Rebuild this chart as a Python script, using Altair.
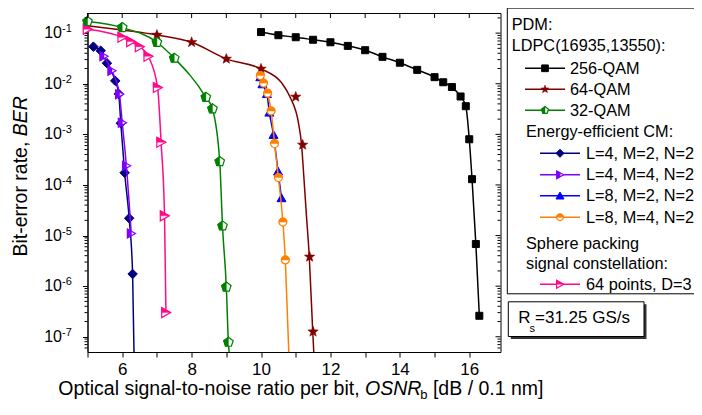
import math
import altair as alt
import pandas as pd

# ---------------- data ----------------
qam256_x = [10.0, 10.5, 11.0, 11.5, 12.0, 12.5, 13.0, 13.5, 14.0, 14.5, 15.0, 15.25, 15.5, 15.75, 15.9, 16.0, 16.08, 16.19, 16.29]
qam256_ber = [0.105, 0.091, 0.083, 0.074, 0.066, 0.056, 0.046, 0.034, 0.026, 0.0188, 0.0135, 0.0107, 0.0086, 0.0056, 0.0036, 8.0e-4, 1.3e-4, 6.8e-6, 2.6e-7]

qam64_x = [7.0, 8.0, 9.0, 10.0, 11.0, 11.2, 11.4, 11.5]
qam64_ber = [0.092, 0.066, 0.031, 0.0197, 0.0055, 6.2e-4, 3.8e-6, 1.26e-7]
qam64_fit_x = [5.0, 6.0, 7.0, 8.0, 9.0, 10.0, 10.6, 10.84, 11.08, 11.17, 11.22, 11.3, 11.39, 11.49, 11.52]
qam64_fit_ber = [0.14, 0.115, 0.092, 0.066, 0.031, 0.0197, 0.0103, 0.0054, 0.00166, 6.0e-4, 2.0e-4, 3.0e-5, 3.8e-6, 1.26e-7, 5.0e-8]

qam32_x = [5.0, 6.0, 7.0, 7.5, 8.41, 8.6, 8.81, 8.89, 9.0, 9.06]
qam32_ber = [0.17, 0.129, 0.066, 0.032, 0.0054, 0.0032, 2.9e-4, 1.55e-5, 9.6e-7, 7.8e-8]
qam32_tail_x = [9.08]
qam32_tail_ber = [5.0e-8]

l4m2_x = [5.17, 5.38, 5.56, 5.8, 5.9, 5.96, 6.07, 6.2, 6.3]
l4m2_ber = [0.054, 0.045, 0.0255, 0.0114, 0.0063, 0.00166, 1.74e-4, 2.2e-5, 1.74e-6]
l4m2_tail_x = [6.34]
l4m2_tail_ber = [5.0e-8]

l4m4_x = [5.47, 5.7, 5.92, 6.0, 6.12, 6.26]
l4m4_ber = [0.035, 0.018, 0.0062, 0.0017, 2.4e-4, 1.1e-5]

l8m2_x = [9.98, 10.04, 10.17, 10.24, 10.36, 10.49, 10.59]
l8m2_ber = [0.0135, 0.0098, 0.0063, 0.0027, 9.8e-4, 1.85e-4, 5.5e-5]

l8m4_x = [9.98, 10.07, 10.19, 10.29, 10.39, 10.5, 10.63, 10.7]
l8m4_ber = [0.0145, 0.0103, 0.0065, 0.0029, 6.6e-4, 1.4e-4, 1.85e-5, 3.3e-6]
l8m4_tail_x = [10.8]
l8m4_tail_ber = [5.0e-8]

sp64_x = [5.0, 6.0, 6.25, 6.5, 6.75, 7.02, 7.12, 7.22, 7.26]
sp64_ber = [0.12, 0.083, 0.068, 0.054, 0.035, 0.0084, 7.0e-4, 2.45e-5, 3.0e-7]

x_ticks = [5, 6, 7, 8, 9, 10, 11, 12, 13, 14, 15, 16]
y_major = [1e-1, 1e-2, 1e-3, 1e-4, 1e-5, 1e-6, 1e-7]
y_exp = ["-1", "-2", "-3", "-4", "-5", "-6", "-7"]

x_title_parts = ["Optical signal-to-noise ratio per bit,", "OSNR", "b", "[dB / 0.1 nm]"]
y_title_parts = ["Bit-error rate,", "BER"]

legend_head1 = "PDM:"
legend_head2 = "LDPC(16935,13550):"
legend_head3 = "Energy-efficient CM:"
legend_head4a = "Sphere packing"
legend_head4b = "signal constellation:"
rs_parts = ["R", "s", "=31.25 GS/s"]

# ---------------- layout / style ----------------
W, H = 413, 339
TOTAL_W, TOTAL_H = 686, 394
PAD_L, PAD_T = 79.5, 5
FONT = "Liberation Sans"
XMIN, XMAX = 5, 16.9
YMIN, YMAX = 5e-8, 0.25

C_256 = "#000000"
C_64 = "#800000"
C_32 = "#008000"
C_L4M2 = "#000080"
C_L4M4 = "#8000FF"
C_L8M2 = "#0000FF"
C_L8M4 = "#FF8000"
C_SP = "#FF0A8C"


def poly(pts):
    return "M" + "L".join(f"{a:.3f},{b:.3f}" for a, b in pts) + "Z"


STAR = poly([((1.0 if k % 2 == 0 else 0.42) * math.cos(math.radians(-90 + 36 * k)),
              (1.0 if k % 2 == 0 else 0.42) * math.sin(math.radians(-90 + 36 * k))) for k in range(10)])
PENT = poly([(math.cos(math.radians(-90 + 72 * k)), math.sin(math.radians(-90 + 72 * k))) for k in range(5)])
PENT_HALF = "M0,-1L-0.951,-0.309L-0.588,0.809L0,0.809Z"
SQUARE = "M-1,-1L1,-1L1,1L-1,1Z"
DIAMOND = "M0,-1L1,0L0,1L-1,0Z"
TRI_UP = "M0,-0.95L1,0.8L-1,0.8Z"
TRI_R = "M-0.85,-1L0.95,0L-0.85,1Z"
TRI_R_LEFT = "M-0.85,-1L0.05,-0.5L0.05,0.5L-0.85,1Z"
TRI_R_TOP = "M-0.85,-1L0.95,0L-0.85,0Z"
CIRCLE = "M-1,0A1,1,0,1,1,1,0A1,1,0,1,1,-1,0Z"
CIRCLE_TOP = "M-1,0A1,1,0,0,1,1,0Z"

xscale = alt.Scale(domain=[XMIN, XMAX], nice=False, zero=False)
yscale = alt.Scale(type="log", domain=[YMIN, YMAX], nice=False)
x_axis = alt.Axis(values=x_ticks, labelExpr="datum.value % 2 == 0 ? datum.label : ''",
                  tickSize=5, labelFontSize=17, labelPadding=4, title=None, grid=False,
                  labelFont=FONT, labelColor="black", tickColor="black", domainColor="black")
y_axis = alt.Axis(values=y_major, labels=False, tickSize=5, title=None, grid=False,
                  tickColor="black", domainColor="black")


def X(f):
    return alt.X(f"{f}:Q", scale=xscale, axis=x_axis)


def Y(f):
    return alt.Y(f"{f}:Q", scale=yscale, axis=y_axis)


layers = []


def line(xs, ys, color):
    df = pd.DataFrame({"x": xs, "ber": ys})
    layers.append(alt.Chart(df).mark_line(color=color, strokeWidth=1.5, interpolate="monotone", clip=True)
                  .encode(x=X("x"), y=Y("ber")))


def pts(xs, ys, shape, size, fill, stroke, sw=1.0):
    df = pd.DataFrame({"x": xs, "ber": ys})
    layers.append(alt.Chart(df).mark_point(shape=shape, size=size, filled=True, fill=fill, stroke=stroke,
                                           strokeWidth=sw, opacity=1)
                  .encode(x=X("x"), y=Y("ber")))


# curves
line(qam256_x, qam256_ber, C_256)
pts(qam256_x, qam256_ber, SQUARE, 49, C_256, C_256)
line(qam64_fit_x, qam64_fit_ber, C_64)
pts(qam64_x, qam64_ber, STAR, 121, C_64, C_64, 0.5)
line(sp64_x, sp64_ber, C_SP)
pts(sp64_x, sp64_ber, TRI_R, 100, "white", C_SP, 1.2)
pts(sp64_x, sp64_ber, TRI_R_TOP, 100, C_SP, C_SP, 0.5)
line(l4m2_x + l4m2_tail_x, l4m2_ber + l4m2_tail_ber, C_L4M2)
pts(l4m2_x, l4m2_ber, DIAMOND, 90, C_L4M2, C_L4M2)
line(l4m4_x, l4m4_ber, C_L4M4)
pts(l4m4_x, l4m4_ber, TRI_R, 81, "white", C_L4M4, 1.2)
pts(l4m4_x, l4m4_ber, TRI_R_LEFT, 81, C_L4M4, C_L4M4, 0.5)
line(l8m2_x, l8m2_ber, C_L8M2)
pts(l8m2_x, l8m2_ber, TRI_UP, 81, C_L8M2, C_L8M2)
line(l8m4_x + l8m4_tail_x, l8m4_ber + l8m4_tail_ber, C_L8M4)
pts(l8m4_x, l8m4_ber, CIRCLE, 64, "white", C_L8M4, 1.2)
pts(l8m4_x, l8m4_ber, CIRCLE_TOP, 64, C_L8M4, C_L8M4, 0.5)
line(qam32_x + qam32_tail_x, qam32_ber + qam32_tail_ber, C_32)
pts(qam32_x, qam32_ber, PENT, 100, "white", C_32, 1.2)
pts(qam32_x, qam32_ber, PENT_HALF, 100, C_32, C_32, 0.5)

# minor / mirrored ticks
y_minor = [m * 10.0 ** k for k in range(-8, 0) for m in range(2, 10) if YMIN < m * 10.0 ** k < YMAX]
dminor = pd.DataFrame({"v": y_minor})
dmajor = pd.DataFrame({"v": y_major})
dxt = pd.DataFrame({"t": x_ticks})
layers.append(alt.Chart(dminor).mark_rule(color="black", strokeWidth=1)
              .encode(y=Y("v"), x=alt.value(-3), x2=alt.value(0)))
layers.append(alt.Chart(dminor).mark_rule(color="black", strokeWidth=1)
              .encode(y=Y("v"), x=alt.value(W - 3), x2=alt.value(W)))
layers.append(alt.Chart(dmajor).mark_rule(color="black", strokeWidth=1)
              .encode(y=Y("v"), x=alt.value(W - 5), x2=alt.value(W)))
layers.append(alt.Chart(dxt).mark_rule(color="black", strokeWidth=1)
              .encode(x=X("t"), y=alt.value(0), y2=alt.value(5)))

# y tick labels 10^k
dlab = pd.DataFrame({"v": y_major, "b": ["10"] * len(y_major), "e": y_exp})
layers.append(alt.Chart(dlab).mark_text(align="right", baseline="middle", fontSize=16, font=FONT, color="black")
              .encode(y=Y("v"), x=alt.value(-25.5), text="b:N"))
layers.append(alt.Chart(dlab).mark_text(align="left", baseline="middle", fontSize=11, font=FONT, color="black", dy=-4)
              .encode(y=Y("v"), x=alt.value(-25.5), text="e:N"))


def text(s, x, y, size=17, style="normal", angle=0, align="left"):
    df = pd.DataFrame({"t": [s]})
    kw = dict(align=align, baseline="alphabetic", fontSize=size, font=FONT, color="black", fontStyle=style)
    if angle:
        kw["angle"] = angle
    layers.append(alt.Chart(df).mark_text(**kw).encode(x=alt.value(x), y=alt.value(y), text="t:N"))


def rect(x1, y1, x2, y2, fill, stroke=None, sw=1):
    df = pd.DataFrame({"a": [0]})
    kw = dict(fill=fill)
    if stroke:
        kw.update(stroke=stroke, strokeWidth=sw)
    else:
        kw.update(strokeWidth=0)
    layers.append(alt.Chart(df).mark_rect(**kw).encode(x=alt.value(x1), x2=alt.value(x2),
                                                        y=alt.value(y1), y2=alt.value(y2)))


def hline(x1, x2, y, color="black", sw=1):
    layers.append(alt.Chart(pd.DataFrame({"a": [0]})).mark_rule(color=color, strokeWidth=sw)
                  .encode(x=alt.value(x1), x2=alt.value(x2), y=alt.value(y)))


def vline(x, y1, y2, color="black", sw=1):
    layers.append(alt.Chart(pd.DataFrame({"a": [0]})).mark_rule(color=color, strokeWidth=sw)
                  .encode(x=alt.value(x), y=alt.value(y1), y2=alt.value(y2)))


# axis titles (pieces for italic / subscript)
TF = 19.5
xb = 382
x0 = -29.2
text(x_title_parts[0], x0, xb, TF)
text(x_title_parts[1], x0 + 15.728 * TF, xb, TF, "italic")
sx = x0 + (15.728 + 2.889) * TF - 1
text(x_title_parts[2], sx, xb + 4, 13)
text(x_title_parts[3], sx + 7.2 + 0.278 * TF, xb, TF)

yb = -60.5
text(y_title_parts[0], yb, 243.5, TF, angle=270)
text(y_title_parts[1], yb, 243.5 - 6.168 * TF, TF, "italic", angle=270)

# legend box (its right side runs off the picture, as in the reference)
LX0 = 419.8
LX1 = TOTAL_W - PAD_L + 5
rect(LX0, -4.9, LX1, 280.8, "white")
hline(LX0, LX1, -4.9)
hline(LX0, LX1, 280.8)
vline(LX0, -4.9, 280.8)
baselines = [16.8, 38.3, 60.8, 81.8, 102.8, 124.3, 145.8, 167.3, 188.3, 209.8, 236.3, 256.3, 276.8]
LF = 16.3
text(legend_head1, 424.2, baselines[0], LF)
text(legend_head2, 424.2, baselines[1], LF)
text(legend_head3, 438.5, baselines[5], LF)
text(legend_head4a, 438.5, baselines[10], LF)
text(legend_head4b, 438.5, baselines[11], LF)


def legend_entry(row, label, color, shapes, indent):
    yb_ = baselines[row]
    cy = yb_ - 5.5
    if indent == 0:
        x1, x2, tx = 437.5, 477.5, 482.5
    else:
        x1, x2, tx = 452.5, 492.5, 498.5
    hline(x1, x2, cy, color, 1.5)
    for shape, size, fill, stroke, sw in shapes:
        layers.append(alt.Chart(pd.DataFrame({"a": [0]})).mark_point(shape=shape, size=size, filled=True,
                                                                      fill=fill, stroke=stroke, strokeWidth=sw,
                                                                      opacity=1)
                      .encode(x=alt.value((x1 + x2) / 2), y=alt.value(cy)))
    text(label, tx, yb_, LF)


legend_entry(2, "256-QAM", C_256, [(SQUARE, 45, C_256, C_256, 1)], 0)
legend_entry(3, "64-QAM", C_64, [(STAR, 70, C_64, C_64, 0.5)], 0)
legend_entry(4, "32-QAM", C_32, [(PENT, 55, "white", C_32, 1.2), (PENT_HALF, 55, C_32, C_32, 0.5)], 0)
legend_entry(6, "L=4, M=2, N=2", C_L4M2, [(DIAMOND, 64, C_L4M2, C_L4M2, 1)], 1)
legend_entry(7, "L=4, M=4, N=2", C_L4M4, [(TRI_R, 60, "white", C_L4M4, 1.2), (TRI_R_LEFT, 60, C_L4M4, C_L4M4, 0.5)], 1)
legend_entry(8, "L=8, M=2, N=2", C_L8M2, [(TRI_UP, 64, C_L8M2, C_L8M2, 1)], 1)
legend_entry(9, "L=8, M=4, N=2", C_L8M4, [(CIRCLE, 45, "white", C_L8M4, 1.2), (CIRCLE_TOP, 45, C_L8M4, C_L8M4, 0.5)], 1)
legend_entry(12, "64 points, D=3", C_SP, [(TRI_R, 64, "white", C_SP, 1.2), (TRI_R_TOP, 64, C_SP, C_SP, 0.5)], 1)

# symbol-rate box
rect(423.3, 291.3, 559, 326, "#333333")
rect(420.8, 288.8, 556.5, 323.5, "white", "black", 1)
text(rs_parts[0], 430.8, 310.1, 17)
text(rs_parts[1], 442.0, 318.5, 11)
text(rs_parts[2], 447.5, 310.1, 17)

chart = alt.layer(*layers).properties(
    width=W, height=H,
    autosize=alt.AutoSizeParams(type="none"),
    padding={"left": PAD_L, "top": PAD_T, "right": TOTAL_W - PAD_L - W, "bottom": TOTAL_H - PAD_T - H},
    background="white",
).configure_view(stroke="black", strokeWidth=1)

chart.save("out.html", embed_options={"renderer": "svg", "actions": False})
